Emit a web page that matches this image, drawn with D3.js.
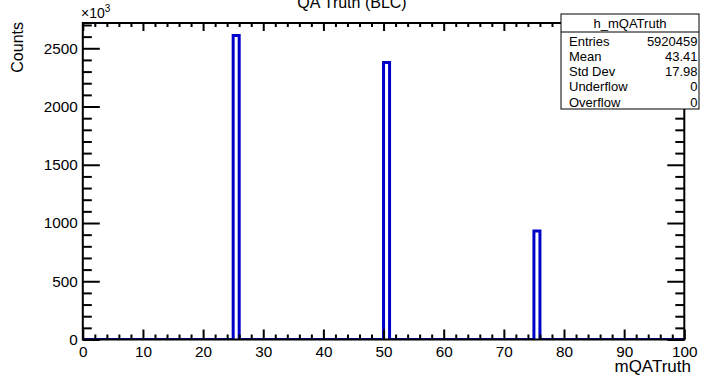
<!DOCTYPE html>
<html><head><meta charset="utf-8">
<script src="https://cdn.jsdelivr.net/npm/d3@7"></script>
<style>
body{margin:0;background:#fff}
svg{display:block}
text{font-family:"Liberation Sans",Arial,Helvetica,sans-serif;fill:#000}
</style>
</head><body>
<svg id="c" width="703" height="376"></svg>
<script>
// ---- data ----
const xRange = [0, 100];
const nBins = 100;
const peakBinLowEdges = [25, 50, 75];
const peakCounts = [2610, 2378, 932];          // in units of 10^3
const xMajorTicks = [0, 10, 20, 30, 40, 50, 60, 70, 80, 90, 100];
const yMajorTicks = [0, 500, 1000, 1500, 2000, 2500];
const statsNames = ["Entries", "Mean", "Std Dev", "Underflow", "Overflow"];
const statsValues = ["5920459", "43.41", "17.98", "0", "0"];
const chartTitle = "QA Truth (BLC)";
const xTitle = "mQATruth";
const yTitle = "Counts";
const histName = "h_mQATruth";

// ---- build bins ----
const counts = new Array(nBins).fill(0);
peakBinLowEdges.forEach((e, i) => { counts[Math.round(e)] = peakCounts[i]; });

const svg = d3.select("#c");
const L = 82.8, R = 684.3, T = 23, B = 339.5;
const x = d3.scaleLinear().domain(xRange).range([L, R]);
const y = d3.scaleLinear().domain([0, 2717]).range([B, T]);

// clip
svg.append("clipPath").attr("id", "clip").append("rect")
  .attr("x", L).attr("y", T - 2).attr("width", R - L).attr("height", B - T + 2);

// histogram step line
const pts = [];
const bw = (xRange[1] - xRange[0]) / nBins;
counts.forEach((c, i) => { pts.push([i * bw, c]); pts.push([(i + 1) * bw, c]); });
svg.append("path")
  .attr("clip-path", "url(#clip)")
  .attr("d", d3.line().x(d => x(d[0])).y(d => y(d[1]))(pts))
  .attr("fill", "none").attr("stroke", "#0000cc").attr("stroke-width", 3)
  .attr("stroke-linejoin", "miter");

// axes
const xMinor = d3.range(0, 101, 2).filter(v => v % 10 !== 0);
const yMinor = d3.range(0, 2717, 100).filter(v => v % 500 !== 0);

function styleAxis(g) {
  g.select(".domain").remove();
  g.selectAll("line").attr("stroke", "#000").attr("stroke-width", 2);
  g.selectAll("text").attr("font-size", 15.3).attr("font-family", '"Liberation Sans",Arial,sans-serif').attr("fill", "#000");
}

svg.append("g").attr("transform", `translate(0,${B})`)
  .call(d3.axisBottom(x).tickValues(xMajorTicks).tickSizeInner(-10).tickSizeOuter(0).tickPadding(6.5).tickFormat(d3.format("d")))
  .call(styleAxis);
svg.append("g").attr("transform", `translate(0,${B})`)
  .call(d3.axisBottom(x).tickValues(xMinor).tickSizeInner(-5).tickSizeOuter(0).tickFormat(""))
  .call(styleAxis);
svg.append("g").attr("transform", `translate(0,${T})`)
  .call(d3.axisTop(x).tickValues(xMajorTicks).tickSizeInner(-8).tickSizeOuter(0).tickFormat(""))
  .call(styleAxis);
svg.append("g").attr("transform", `translate(0,${T})`)
  .call(d3.axisTop(x).tickValues(xMinor).tickSizeInner(-4).tickSizeOuter(0).tickFormat(""))
  .call(styleAxis);
svg.append("g").attr("transform", `translate(${L},0)`)
  .call(d3.axisLeft(y).tickValues(yMajorTicks).tickSizeInner(-17).tickSizeOuter(0).tickPadding(5).tickFormat(d3.format("d")))
  .call(styleAxis);
svg.append("g").attr("transform", `translate(${L},0)`)
  .call(d3.axisLeft(y).tickValues(yMinor).tickSizeInner(-9).tickSizeOuter(0).tickFormat(""))
  .call(styleAxis);
svg.append("g").attr("transform", `translate(${R},0)`)
  .call(d3.axisRight(y).tickValues(yMajorTicks).tickSizeInner(-17).tickSizeOuter(0).tickFormat(""))
  .call(styleAxis);
svg.append("g").attr("transform", `translate(${R},0)`)
  .call(d3.axisRight(y).tickValues(yMinor).tickSizeInner(-9).tickSizeOuter(0).tickFormat(""))
  .call(styleAxis);

// frame
svg.append("rect").attr("x", L).attr("y", T).attr("width", R - L).attr("height", B - T)
  .attr("fill", "none").attr("stroke", "#000").attr("stroke-width", 2);

// exponent label
const ex = svg.append("text").attr("x", 81).attr("y", 18).attr("font-size", 14);
ex.append("tspan").text("\u00d710");
ex.append("tspan").attr("dy", -6).attr("font-size", 10).text("3");

// titles
svg.append("text").attr("x", 352).attr("y", 8).attr("text-anchor", "middle")
  .attr("font-size", 16).text(chartTitle);
svg.append("text").attr("x", 691).attr("y", 372).attr("text-anchor", "end")
  .attr("font-size", 17).text(xTitle);
svg.append("text").attr("transform", "translate(23,22) rotate(-90)").attr("text-anchor", "end")
  .attr("font-size", 16).text(yTitle);

// stats box
const sb = { x: 561, y: 14, w: 138, h: 95 };
svg.append("rect").attr("x", sb.x).attr("y", sb.y).attr("width", sb.w).attr("height", sb.h)
  .attr("fill", "#fff").attr("stroke", "#000").attr("stroke-width", 1);
svg.append("line").attr("x1", sb.x).attr("x2", sb.x + sb.w).attr("y1", 32).attr("y2", 32)
  .attr("stroke", "#000").attr("stroke-width", 1);
svg.append("text").attr("x", sb.x + sb.w / 2).attr("y", 28).attr("text-anchor", "middle")
  .attr("font-size", 13).text(histName);
statsNames.forEach((n, i) => {
  const by = 45.5 + i * 15.3;
  svg.append("text").attr("x", 569).attr("y", by).attr("font-size", 13).text(n);
  svg.append("text").attr("x", 697.5).attr("y", by).attr("text-anchor", "end").attr("font-size", 13).text(statsValues[i]);
});
</script>
</body></html>
